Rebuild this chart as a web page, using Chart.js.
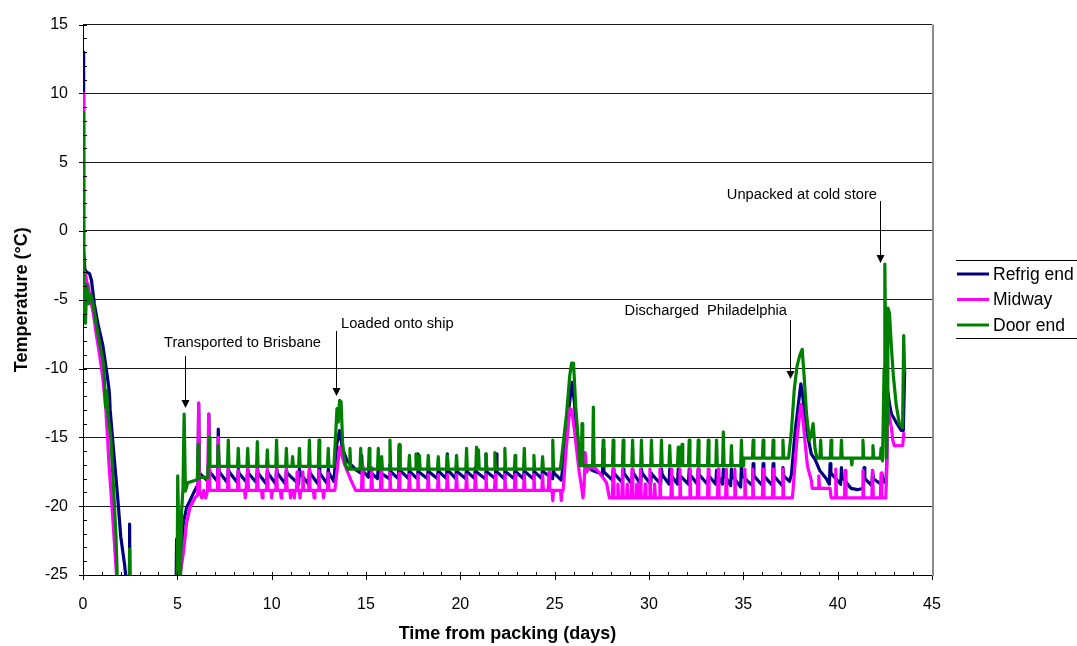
<!DOCTYPE html>
<html>
<head>
<meta charset="utf-8">
<title>Container temperatures</title>
<script src="https://cdn.jsdelivr.net/npm/chart.js@4.4.1/dist/chart.umd.min.js"></script>
<style>
  html, body { margin: 0; padding: 0; background: #fff; }
</style>
</head>
<body>
<canvas id="tempChart" width="1077" height="646"></canvas>
<script>
const seriesNames = ['Refrig end', 'Midway', 'Door end'];
const seriesColors = ['#000080', '#ff00ff', '#008000'];
const dayTicks = [0, 5, 10, 15, 20, 25, 30, 35, 40, 45];
const tempTicks = [-25, -20, -15, -10, -5, 0, 5, 10, 15];

// logger traces [day, degC]; values below -25 run off the bottom of the plot
const refrigTrace = [
  [0.00, 13.0], [0.02, 10.5], [0.05, -1.4], [0.1, -2.8], [0.2, -3.0], [0.35, -3.1], [0.45, -3.6],
  [0.6, -5.3], [0.8, -6.8], [1.05, -8.3], [1.25, -10.2], [1.36, -11.3], [1.4, -11.8], [1.44, -13.0],
  [1.58, -15.3], [1.84, -19.4], [2.0, -22.2], [2.2, -24.2], [2.3, -25.5], [2.38, -28], [2.44, -28],
  [2.47, -21.3], [2.5, -28],
  [4.92, -28], [4.96, -22.4], [5.1, -23.0], [5.23, -23.2], [5.32, -21.2], [5.49, -20.1], [5.67, -19.6],
  [5.84, -19.1], [6.02, -18.6],
  [13.3, -18.2], [13.45, -15.5], [13.6, -14.5], [13.75, -15.8], [14.0, -16.7], [14.5, -17.4],
  [25.35, -18.1], [25.5, -16.5], [25.7, -13.5], [25.92, -11.0], [26.05, -12.5], [26.18, -15.2],
  [26.45, -16.4], [26.7, -17.1], [27.0, -17.4], [27.4, -17.6],
  [37.45, -18.2], [37.55, -17.7], [37.75, -14.5], [38.05, -11.1], [38.15, -12.0], [38.33, -14.3],
  [38.6, -16.2], [38.8, -16.6], [39.05, -17.4], [39.4, -18.0],
  [40.7, -18.7], [41.05, -18.8],
  [42.55, -18.3], [42.6, -17.0], [42.65, -11.6], [42.75, -12.6], [42.85, -13.3], [43.1, -13.9],
  [43.38, -14.5], [43.48, -14.5], [43.55, -10.2]
];
const midwayTrace = [
  [0.00, 10.0], [0.02, 2.0], [0.04, -4.2], [0.1, -3.0], [0.2, -3.7], [0.27, -3.9], [0.4, -5.0],
  [0.55, -6.0], [0.7, -7.5], [0.87, -8.9], [1.05, -10.7], [1.2, -12.8], [1.3, -15.0], [1.38, -17.0],
  [1.55, -20.3], [1.8, -25.5], [1.88, -28],
  [5.05, -28], [5.15, -25.0], [5.32, -23.4], [5.49, -21.2], [5.67, -20.1], [5.93, -19.4], [6.08, -19.2],
  [6.13, -12.5], [6.18, -18.9], [6.3, -19.4], [6.4, -18.85], [6.5, -19.4], [6.6, -18.9], [6.66, -13.3],
  [6.72, -18.85],
  [13.35, -18.85], [13.5, -17.0], [13.6, -15.7], [13.7, -16.2], [13.85, -16.9], [14.2, -18.1], [14.45, -18.85],
  [25.45, -18.85], [25.6, -16.0], [25.8, -12.9], [25.9, -13.0], [26.05, -14.5], [26.18, -16.1],
  [26.3, -17.5], [26.45, -18.85], [26.5, -19.4], [26.56, -18.6], [26.62, -16.1], [26.7, -17.5],
  [26.9, -17.1], [27.2, -17.3], [27.5, -17.8], [27.75, -18.3], [27.9, -19.4],
  [37.6, -19.4], [37.68, -18.0], [37.85, -15.0], [38.05, -12.6], [38.15, -13.5], [38.26, -15.2],
  [38.4, -17.1], [38.6, -18.1], [38.65, -18.7],
  [39.6, -18.7], [39.65, -19.4],
  [42.55, -19.4], [42.6, -17.5], [42.65, -12.7], [42.75, -13.6], [42.85, -14.3], [42.92, -15.2],
  [43.0, -15.6], [43.45, -15.6], [43.5, -14.7]
];
const doorTrace = [
  [0.00, 8.6], [0.02, -1.0], [0.05, -6.0], [0.09, -4.4], [0.13, -6.7], [0.2, -3.9], [0.3, -5.3],
  [0.42, -4.6], [0.55, -5.4], [0.7, -6.8], [0.9, -8.3], [1.1, -9.7], [1.2, -12.8], [1.26, -11.6],
  [1.32, -13.4], [1.47, -15.0], [1.6, -18.2], [1.75, -22.2], [1.88, -28], [2.43, -28], [2.47, -23.1],
  [2.51, -28],
  [4.98, -28], [5.02, -17.8], [5.08, -22.3], [5.16, -26.0], [5.22, -20.5], [5.3, -18.7], [5.36, -13.3],
  [5.43, -18.9], [5.55, -18.3], [6.0, -18.1], [6.2, -17.9], [6.6, -17.9], [6.62, -17.1],
  [13.3, -17.1], [13.4, -14.6], [13.46, -12.9], [13.53, -13.9], [13.6, -12.3], [13.68, -12.4],
  [13.76, -15.4], [13.88, -16.8], [14.0, -17.3],
  [25.3, -17.3], [25.45, -15.5], [25.63, -13.3], [25.8, -10.5], [25.9, -9.6], [26.0, -9.6],
  [26.12, -12.8], [26.25, -15.2], [26.35, -17.05],
  [35.0, -17.05], [35.02, -16.5], [37.4, -16.5], [37.55, -14.5], [37.7, -11.5], [37.85, -9.8],
  [38.0, -9.0], [38.12, -8.6], [38.22, -10.5], [38.35, -13.3], [38.5, -15.2], [38.6, -14.8],
  [38.7, -14.0], [38.8, -15.8], [38.9, -16.5],
  [42.38, -16.7], [42.46, -10.0], [42.5, -2.4], [42.54, -8.0], [42.58, -16.5], [42.62, -14.0],
  [42.66, -5.6], [42.75, -6.0], [42.85, -8.5], [42.95, -10.5], [43.1, -12.6], [43.27, -14.0],
  [43.44, -14.3], [43.5, -7.6], [43.55, -10.2]
];

// defrost cycles: [day, baseline, peak, value just after (optional)]
const refrigSpikes = [
  [6.13, -18.6, -12.5, -17.6], [6.67, -18.2, -13.3, -17.5], [7.17, -18.2, -14.4, -17.5],
  [7.7, -18.3, -17.2, -17.5], [8.23, -18.3, -17.3, -17.6], [8.73, -18.3, -17.3, -17.6],
  [9.24, -18.3, -17.2, -17.6], [9.77, -18.4, -17.4, -17.6], [10.26, -18.4, -17.2, -17.6],
  [10.78, -18.4, -17.3, -17.6], [11.47, -18.4, -17.3, -17.6], [12.0, -18.4, -17.3, -17.6],
  [12.51, -18.4, -17.2, -17.6], [13.0, -18.4, -17.3, -17.6],
  [14.77, -17.6, -16.3, -17.4], [15.17, -17.9, -17.2, -17.5], [15.65, -18.0, -17.2, -17.5],
  [16.27, -18.0, -17.0, -17.5], [16.76, -18.0, -15.6, -17.4], [17.3, -18.0, -17.2, -17.5],
  [17.75, -18.0, -16.2, -17.5], [18.3, -18.0, -17.2, -17.5], [18.83, -18.0, -17.2, -17.5],
  [19.31, -18.0, -16.2, -17.4], [19.8, -18.0, -17.2, -17.5], [20.33, -18.0, -17.2, -17.5],
  [20.8, -18.0, -17.2, -17.5], [21.36, -18.0, -16.2, -17.5], [21.9, -18.0, -16.2, -17.5],
  [22.36, -18.0, -17.2, -17.5], [22.9, -18.0, -17.2, -17.5], [23.39, -18.0, -17.2, -17.5],
  [23.9, -18.0, -17.2, -17.5], [24.36, -18.0, -17.2, -17.5], [24.93, -18.0, -17.3, -17.6],
  [27.57, -17.8, -15.8, -17.5], [28.1, -18.1, -17.3, -17.6], [28.63, -18.3, -17.3, -17.6],
  [29.13, -18.4, -17.3, -17.6], [29.6, -18.4, -17.3, -17.6], [30.13, -18.4, -17.6, -17.7],
  [30.66, -18.4, -17.3, -17.7], [31.1, -18.4, -17.3, -17.7], [31.55, -18.4, -17.3, -17.7],
  [32.13, -18.4, -17.3, -17.7], [32.61, -18.4, -17.3, -17.7], [33.14, -18.4, -17.9, -17.8],
  [33.58, -18.4, -17.4, -17.7], [33.94, -18.4, -17.3, -17.7], [34.37, -18.5, -17.3, -17.8],
  [34.9, -18.6, -16.9, -17.8], [35.52, -18.5, -16.9, -17.8], [36.05, -18.5, -16.9, -17.8],
  [36.58, -18.5, -16.9, -17.8], [37.1, -18.5, -17.2, -17.8],
  [39.6, -18.4, -16.9, -17.6], [40.2, -18.4, -17.2, -17.9], [41.4, -18.7, -17.2, -18.0],
  [41.85, -18.5, -17.4, -18.0], [42.34, -18.4, -17.6, -18.0]
];
const midwaySpikes = [
  [7.17, -18.85, -15.0], [7.7, -18.85, -17.3], [8.23, -18.85, -17.4], [8.6, -18.85, -19.4],
  [8.73, -18.85, -17.3], [9.24, -18.85, -17.3], [9.5, -18.85, -19.4], [9.77, -18.85, -17.3],
  [10.0, -18.85, -19.4], [10.26, -18.85, -17.3], [10.5, -18.85, -19.4], [10.78, -18.85, -17.3],
  [11.0, -18.85, -19.4], [11.2, -18.85, -19.4], [11.35, -18.85, -17.5], [11.5, -18.85, -19.4],
  [11.65, -18.85, -17.5], [12.0, -18.85, -17.3], [12.25, -18.85, -19.4], [12.5, -18.85, -17.4],
  [12.75, -18.85, -19.4], [13.0, -18.85, -17.6],
  [14.8, -18.85, -17.1], [15.3, -18.85, -17.2], [15.8, -18.85, -17.2], [16.27, -18.85, -17.6],
  [16.76, -18.85, -17.6], [17.3, -18.85, -17.7], [17.75, -18.85, -17.7], [18.3, -18.85, -17.7],
  [18.83, -18.85, -17.7], [19.31, -18.85, -17.7], [19.8, -18.85, -17.7], [20.33, -18.85, -17.7],
  [20.8, -18.85, -17.7], [21.36, -18.85, -17.7], [21.85, -18.85, -17.7], [22.36, -18.85, -17.7],
  [22.9, -18.85, -17.7], [23.39, -18.85, -17.7], [23.9, -18.85, -17.7], [24.36, -18.85, -17.7],
  [24.7, -18.85, -17.5], [24.9, -18.85, -19.6], [25.35, -18.85, -19.6],
  [28.1, -19.4, -17.3], [28.35, -19.4, -18.4], [28.6, -19.4, -17.3], [28.85, -19.4, -18.4],
  [29.1, -19.4, -17.3], [29.35, -19.4, -18.4], [29.55, -19.4, -17.3], [29.8, -19.4, -18.4],
  [30.05, -19.4, -17.3], [30.3, -19.4, -18.4], [30.58, -19.4, -17.3], [31.2, -19.4, -17.3],
  [31.64, -19.4, -17.3], [32.17, -19.4, -17.3], [32.6, -19.4, -17.3], [33.14, -19.4, -17.3],
  [33.67, -19.4, -17.3], [34.1, -19.4, -17.3], [34.55, -19.4, -17.3], [35.08, -19.4, -17.3],
  [35.5, -19.4, -17.3], [36.05, -19.4, -17.3], [36.58, -19.4, -17.3], [37.1, -19.4, -17.3],
  [39.0, -18.7, -17.8], [39.9, -19.4, -17.3], [40.4, -19.4, -17.4], [41.34, -19.4, -17.4],
  [41.85, -19.4, -17.4], [42.3, -19.4, -17.6]
];
const doorSpikes = [
  [6.1, -18.0, -15.5], [6.69, -17.1, -15.0], [7.17, -17.1, -15.6], [7.7, -17.1, -15.2],
  [8.23, -17.1, -15.8], [8.73, -17.1, -15.8], [9.24, -17.1, -15.3], [9.77, -17.1, -15.9],
  [10.26, -17.1, -15.2], [10.78, -17.1, -15.8], [11.11, -17.1, -16.4], [11.47, -17.1, -15.8],
  [12.0, -17.1, -15.2], [12.51, -17.1, -15.2], [13.0, -17.1, -15.8],
  [14.15, -17.3, -15.8], [14.72, -17.3, -15.8], [15.17, -17.3, -15.8], [15.65, -17.3, -15.8],
  [15.83, -17.3, -16.4], [16.27, -17.3, -15.2], [16.76, -17.3, -15.5], [17.3, -17.3, -16.3],
  [17.65, -17.3, -16.2], [17.83, -17.3, -16.3], [18.3, -17.3, -16.3], [18.83, -17.3, -16.4],
  [19.31, -17.3, -16.3], [19.8, -17.3, -16.3], [20.33, -17.3, -15.8], [20.86, -17.3, -15.7],
  [20.96, -17.3, -15.9], [21.36, -17.3, -16.2], [21.83, -17.3, -16.1], [22.36, -17.3, -15.8],
  [22.9, -17.3, -16.3], [23.39, -17.3, -15.8], [23.9, -17.3, -16.3], [24.36, -17.3, -16.4],
  [24.9, -17.3, -15.2],
  [26.45, -17.05, -14.0], [27.05, -17.05, -12.8], [27.57, -17.05, -15.2], [28.1, -17.05, -15.2],
  [28.63, -17.05, -15.2], [29.13, -17.05, -15.2], [29.6, -17.05, -15.2], [30.13, -17.05, -15.2],
  [30.66, -17.05, -15.2], [31.1, -17.05, -15.6], [31.55, -17.05, -15.7], [31.75, -17.05, -15.5],
  [32.13, -17.05, -15.2], [32.61, -17.05, -15.2], [33.14, -17.05, -15.2], [33.58, -17.05, -15.2],
  [33.94, -17.05, -14.6], [34.37, -17.05, -15.6], [34.9, -17.05, -15.2],
  [35.52, -16.5, -15.2], [36.05, -16.5, -15.2], [36.58, -16.5, -15.2], [37.1, -16.5, -15.2],
  [39.1, -16.5, -15.2], [39.65, -16.5, -15.2], [40.2, -16.5, -15.2], [40.75, -16.5, -17.0],
  [41.34, -16.5, -15.2], [41.87, -16.5, -15.6], [42.3, -16.5, -15.8]
];

// handling events marked with arrows
const eventNames = ['Transported to Brisbane', 'Loaded onto ship', 'Discharged  Philadelphia', 'Unpacked at cold store'];
const eventDays = [5.38, 13.43, 37.49, 42.26];
const eventTips = [-12.85, -11.98, -10.75, -2.36];

// arrow length and text placement per note (pixels)
const noteLayout = [
  { len: 52, align: 'left', dx: -21.5, dy: 13 },
  { len: 65, align: 'left', dx: 4.5, dy: 7 },
  { len: 59, align: 'right', dx: -3.5, dy: 9 },
  { len: 62, align: 'right', dx: -3.5, dy: 6 }
];

const FONT = 'Arial, "Liberation Sans", sans-serif';

function buildSeries(trace, spikes) {
  const pts = trace.map(p => ({ x: p[0], y: p[1] }));
  spikes.forEach(s => {
    const after = s.length > 3 ? s[3] : s[1];
    pts.push({ x: s[0] - 0.04, y: s[1] });
    pts.push({ x: s[0], y: s[2] });
    pts.push({ x: s[0] + 0.04, y: after });
  });
  return pts.sort((a, b) => a.x - b.x);
}

// tick marks (minor ones inside) and the grey right edge of the plot
const axisMarks = {
  id: 'axisMarks',
  afterDatasetsDraw(chart) {
    const { ctx, chartArea: a, scales: { x, y } } = chart;
    ctx.save();
    ctx.strokeStyle = '#000';
    ctx.lineWidth = 1;
    ctx.beginPath();
    for (let d = x.min; d <= x.max; d++) {
      const px = Math.round(x.getPixelForValue(d)) + 0.5;
      ctx.moveTo(px, a.bottom - 3);
      ctx.lineTo(px, a.bottom + (d % 5 === 0 ? 5 : 0));
    }
    for (let t = y.min; t <= y.max; t++) {
      const py = Math.round(y.getPixelForValue(t)) + 0.5;
      ctx.moveTo(a.left - (t % 5 === 0 ? 4 : 0), py);
      ctx.lineTo(a.left + 4, py);
    }
    ctx.stroke();
    ctx.strokeStyle = '#8c8c8c';
    ctx.lineWidth = 2;
    ctx.beginPath();
    ctx.moveTo(a.right + 1, a.top);
    ctx.lineTo(a.right + 1, a.bottom + 1);
    ctx.stroke();
    ctx.restore();
  }
};

const eventNotes = {
  id: 'eventNotes',
  afterDatasetsDraw(chart) {
    const { ctx, scales: { x, y } } = chart;
    ctx.save();
    ctx.font = '14.7px ' + FONT;
    ctx.fillStyle = '#000';
    ctx.strokeStyle = '#000';
    ctx.lineWidth = 1;
    ctx.textBaseline = 'middle';
    eventNames.forEach((name, i) => {
      const lay = noteLayout[i];
      const ax = Math.round(x.getPixelForValue(eventDays[i])) + 0.5;
      const tip = Math.round(y.getPixelForValue(eventTips[i]));
      const top = tip - lay.len;
      ctx.beginPath();
      ctx.moveTo(ax, top);
      ctx.lineTo(ax, tip - 6);
      ctx.stroke();
      ctx.beginPath();
      ctx.moveTo(ax - 4, tip - 8);
      ctx.lineTo(ax + 4, tip - 8);
      ctx.lineTo(ax, tip);
      ctx.closePath();
      ctx.fill();
      ctx.textAlign = lay.align;
      ctx.fillText(name, ax + lay.dx, top - lay.dy);
    });
    ctx.restore();
  }
};

const sideLegend = {
  id: 'sideLegend',
  afterDraw(chart) {
    const ctx = chart.ctx;
    ctx.save();
    ctx.strokeStyle = '#000';
    ctx.lineWidth = 1;
    ctx.beginPath();
    ctx.moveTo(956, 260.5); ctx.lineTo(1077, 260.5);
    ctx.moveTo(956, 338.5); ctx.lineTo(1077, 338.5);
    ctx.stroke();
    ctx.font = '17.5px ' + FONT;
    ctx.textBaseline = 'middle';
    ctx.textAlign = 'left';
    seriesNames.forEach((name, i) => {
      const ly = 274 + i * 25.5;
      ctx.strokeStyle = seriesColors[i];
      ctx.lineWidth = 3;
      ctx.beginPath();
      ctx.moveTo(957, ly);
      ctx.lineTo(989, ly);
      ctx.stroke();
      ctx.fillStyle = '#000';
      ctx.fillText(name, 993, ly + 1);
    });
    ctx.restore();
  }
};

Chart.defaults.font.family = FONT;
Chart.defaults.color = '#000';

const ctx = document.getElementById('tempChart').getContext('2d');
const tempChart = new Chart(ctx, {
  type: 'line',
  data: {
    datasets: [
      { label: seriesNames[0], data: buildSeries(refrigTrace, refrigSpikes), borderColor: seriesColors[0], order: 3 },
      { label: seriesNames[1], data: buildSeries(midwayTrace, midwaySpikes), borderColor: seriesColors[1], order: 2 },
      { label: seriesNames[2], data: buildSeries(doorTrace, doorSpikes), borderColor: seriesColors[2], order: 1 }
    ]
  },
  options: {
    responsive: false,
    animation: false,
    layout: { padding: { left: 0, right: 145, top: 22, bottom: 0 } },
    elements: {
      point: { radius: 0 },
      line: { borderWidth: 3.2, tension: 0, borderJoinStyle: 'round', borderCapStyle: 'round' }
    },
    plugins: { legend: { display: false }, tooltip: { enabled: false } },
    scales: {
      x: {
        type: 'linear',
        min: 0,
        max: 45,
        afterBuildTicks: s => { s.ticks = dayTicks.map(v => ({ value: v })); },
        afterFit: s => { s.height = 71; },
        grid: { drawOnChartArea: false, drawTicks: false },
        border: { color: '#000', width: 1 },
        ticks: { padding: 20, font: { size: 16 }, color: '#000' },
        title: {
          display: true,
          text: 'Time from packing (days)',
          font: { size: 18, weight: 'bold' },
          color: '#000',
          padding: { top: 0, bottom: 1 }
        }
      },
      y: {
        min: -25,
        max: 15,
        afterBuildTicks: s => { s.ticks = tempTicks.map(v => ({ value: v })); },
        afterFit: s => { s.width = 83; },
        grid: { color: '#1a1a1a', drawTicks: false },
        border: { color: '#000', width: 1 },
        ticks: { padding: 15, font: { size: 16 }, color: '#000' },
        title: {
          display: true,
          text: 'Temperature (°C)',
          font: { size: 18, weight: 'bold' },
          color: '#000',
          padding: { top: 11, bottom: 0 }
        }
      }
    }
  },
  plugins: [axisMarks, eventNotes, sideLegend]
});
</script>
</body>
</html>
